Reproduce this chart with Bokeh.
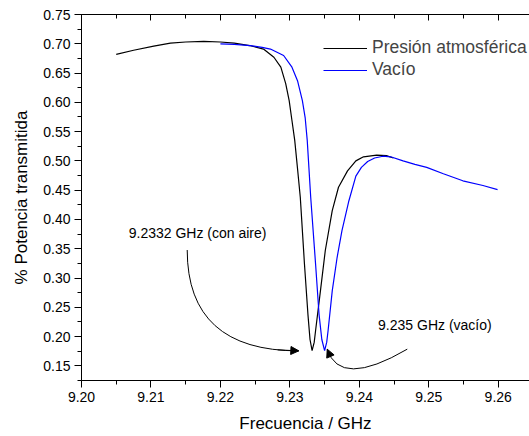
from bokeh.plotting import figure
from bokeh.models import (Range1d, LinearAxis, SingleIntervalTicker, PrintfTickFormatter,
                          CustomJSTickFormatter, Legend, LegendItem, Label, Arrow, NormalHead)
from bokeh.embed import file_html
from bokeh.resources import INLINE

# ---- data ----
atm_x = [9.2050, 9.2075, 9.2104, 9.2128, 9.2150, 9.2176, 9.2200, 9.2220, 9.2242, 9.2262,
         9.2277, 9.2287, 9.2294, 9.2299, 9.2303, 9.2307, 9.2311, 9.2315, 9.2321, 9.2326,
         9.2329, 9.2332, 9.2335, 9.2337, 9.2344, 9.2351, 9.2361, 9.2370, 9.2383, 9.2395,
         9.2406, 9.2425, 9.2439, 9.2449]
atm_y = [0.682, 0.689, 0.696, 0.701, 0.703, 0.704, 0.703, 0.701, 0.697, 0.691,
         0.677, 0.660, 0.632, 0.603, 0.569, 0.535, 0.487, 0.438, 0.324, 0.238,
         0.195, 0.176, 0.190, 0.210, 0.278, 0.347, 0.415, 0.455, 0.483, 0.500,
         0.507, 0.510, 0.509, 0.505]

vac_x = [9.2200, 9.2220, 9.2243, 9.2260, 9.2272, 9.2291, 9.2303, 9.2311, 9.2318, 9.2322,
         9.2325, 9.2330, 9.2337, 9.2342, 9.2346, 9.2350, 9.2353, 9.2355, 9.2361, 9.2368,
         9.2375, 9.2385, 9.2395, 9.2403, 9.2412, 9.2422, 9.2434, 9.2445, 9.2463, 9.2480,
         9.2497, 9.2521, 9.2549, 9.2578, 9.2599]
vac_y = [0.700, 0.699, 0.697, 0.694, 0.691, 0.680, 0.660, 0.637, 0.603, 0.574,
         0.535, 0.438, 0.324, 0.238, 0.195, 0.176, 0.190, 0.210, 0.278, 0.335,
         0.381, 0.432, 0.474, 0.489, 0.499, 0.505, 0.508, 0.507, 0.500, 0.494,
         0.489, 0.478, 0.466, 0.458, 0.451]

series_labels = ["Presión atmosférica", "Vacío"]
x_label = "Frecuencia / GHz"
y_label = "% Potencia transmitida"

note_air = "9.2332 GHz (con aire)"
note_air_pos = (9.2068, 0.3762)
arrow_air = [(9.21522, 0.3478), (9.21522, 0.1756), (9.23129, 0.1756)]  # start, control, tip

note_vac = "9.235 GHz (vacío)"
note_vac_pos = (9.2427, 0.2196)
arrow_vac = [(9.24690, 0.1785), (9.23719, 0.1112), (9.23538, 0.1785)]  # start, control, tip

FONT = "Liberation Sans"

p = figure(width=529, height=436, output_backend="svg", toolbar_location=None,
           x_range=Range1d(9.20, 9.2645), y_range=Range1d(0.125, 0.75),
           min_border_left=81, min_border_right=0, min_border_top=14, min_border_bottom=56)
p.outline_line_color = None
p.grid.visible = False
p.background_fill_color = "white"

r1 = p.line(atm_x, atm_y, line_color="black", line_width=1.2)
r2 = p.line(vac_x, vac_y, line_color="#0000ff", line_width=1.2)

for ax in [p.xaxis[0], p.yaxis[0]]:
    ax.axis_line_color = "black"
    ax.major_tick_line_color = "black"
    ax.minor_tick_line_color = "black"
    ax.major_tick_out = 7
    ax.major_tick_in = 0
    ax.minor_tick_out = 4
    ax.minor_tick_in = 0
    ax.major_label_text_font = FONT
    ax.major_label_text_font_size = "14px"
    ax.major_label_text_color = "black"
    ax.major_label_standoff = 4
    ax.axis_label_text_font = FONT
    ax.axis_label_text_font_size = "17px"
    ax.axis_label_text_font_style = "normal"
    ax.axis_label_text_color = "black"
    ax.axis_label_standoff = 9

p.xaxis[0].ticker = SingleIntervalTicker(interval=0.01, num_minor_ticks=2)
p.xaxis[0].formatter = PrintfTickFormatter(format="%.2f")
p.xaxis[0].axis_label = x_label
p.yaxis[0].ticker = SingleIntervalTicker(interval=0.05, num_minor_ticks=2)
p.yaxis[0].formatter = PrintfTickFormatter(format="%.2f")
p.yaxis[0].axis_label = y_label

top = LinearAxis(ticker=SingleIntervalTicker(interval=0.01, num_minor_ticks=2),
                 formatter=CustomJSTickFormatter(code="return ''"),
                 major_label_standoff=0,
                 major_tick_in=6, major_tick_out=0, minor_tick_in=4, minor_tick_out=0,
                 axis_line_color="black", major_tick_line_color="black",
                 minor_tick_line_color="black")
p.add_layout(top, "above")

legend = Legend(items=[LegendItem(label=series_labels[0], renderers=[r1]),
                       LegendItem(label=series_labels[1], renderers=[r2])],
                location=(242, 300), padding=0, margin=0, spacing=1,
                glyph_width=44, glyph_height=20, label_height=20, label_standoff=5,
                label_text_font=FONT, label_text_font_size="17.5px",
                background_fill_alpha=0, border_line_color=None)
p.add_layout(legend)

for txt, pos in [(note_air, note_air_pos), (note_vac, note_vac_pos)]:
    p.add_layout(Label(x=pos[0], y=pos[1], text=txt, text_font=FONT, text_font_size="14px",
                       text_baseline="middle", text_align="left", text_color="black"))

for (s, c, e) in [arrow_air, arrow_vac]:
    p.quadratic(x0=[s[0]], y0=[s[1]], x1=[e[0]], y1=[e[1]], cx=[c[0]], cy=[c[1]],
                line_color="black", line_width=1)
    t = 0.9
    bx = (1 - t) ** 2 * s[0] + 2 * (1 - t) * t * c[0] + t * t * e[0]
    by = (1 - t) ** 2 * s[1] + 2 * (1 - t) * t * c[1] + t * t * e[1]
    p.add_layout(Arrow(x_start=bx, y_start=by, x_end=e[0], y_end=e[1], line_width=1,
                       end=NormalHead(size=8, fill_color="black", line_color="black", line_width=1)))

open("out.html", "w").write(file_html(p, INLINE))
